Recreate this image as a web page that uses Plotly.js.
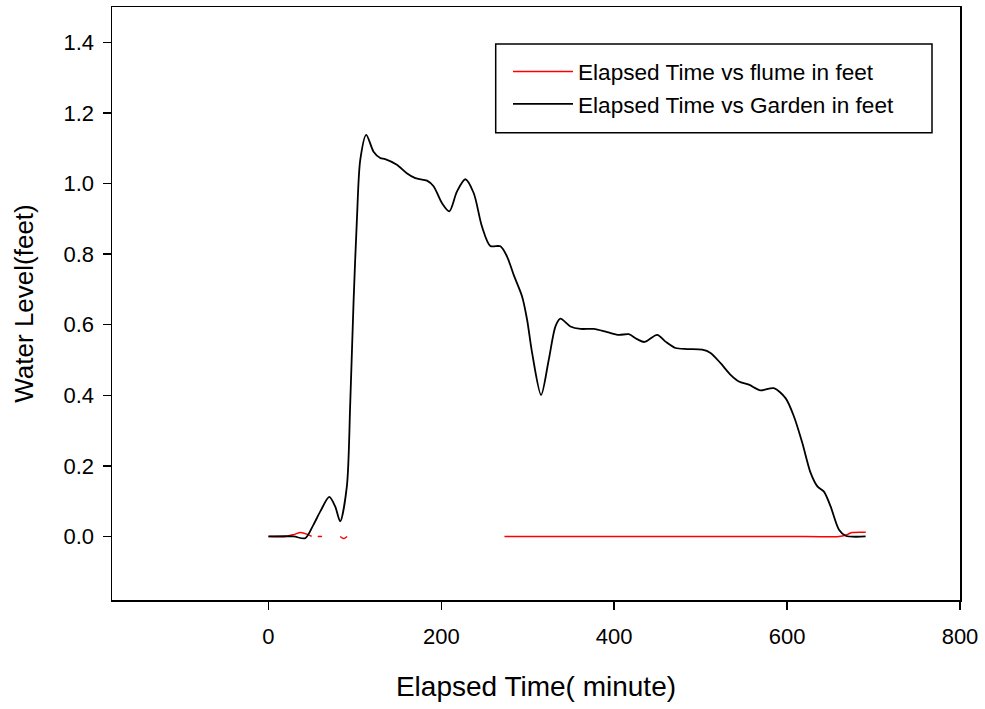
<!DOCTYPE html>
<html>
<head>
<meta charset="utf-8">
<script src="https://cdn.plot.ly/plotly-3.0.1.min.js"></script>
<style>
html,body{margin:0;padding:0;background:#fff;}
#chart{width:985px;height:709px;}
</style>
</head>
<body>
<div id="chart"></div>
<script>
// Elapsed time (minutes) and water level (feet)
var gardenX = [0, 29, 42.5, 52, 60, 70.3, 77.2, 83, 90.7, 94.6, 98.4, 102.3, 106.2, 113.1, 121.6, 129.3, 135, 148.6, 160, 169.9, 183.4, 191, 200.8, 209.2, 218, 227.7, 237.4, 247, 256.7, 268.3, 276, 283.7, 293.4, 299.2, 305, 315.4, 324.2, 332, 337.7, 349.3, 361, 376.3, 391.8, 405.2, 416.8, 426.5, 435, 449.7, 459.3, 470.9, 484.4, 501.8, 511.4, 523, 534.6, 544.2, 555.8, 569.3, 584.7, 598.2, 607.9, 617.6, 627.2, 635, 642.6, 650.3, 660, 667.7, 690.8];
var gardenY = [0, 0, -0.005, 0.033, 0.071, 0.112, 0.085, 0.043, 0.142, 0.378, 0.661, 0.897, 1.067, 1.138, 1.09, 1.072, 1.069, 1.053, 1.029, 1.015, 1.008, 0.992, 0.944, 0.921, 0.977, 1.012, 0.973, 0.878, 0.823, 0.822, 0.793, 0.741, 0.68, 0.614, 0.52, 0.401, 0.50, 0.595, 0.617, 0.595, 0.588, 0.588, 0.579, 0.571, 0.573, 0.559, 0.551, 0.571, 0.552, 0.534, 0.531, 0.529, 0.52, 0.491, 0.458, 0.439, 0.43, 0.414, 0.42, 0.392, 0.34, 0.265, 0.18, 0.142, 0.127, 0.085, 0.019, 0.002, 0];

var flumeX = [0, 20, 30, 37, 45, 50, 54, 57, 62, 72, 83, 87, 91, 180, 273, 300, 400, 500, 600, 660, 668, 675, 691];
var flumeY = [0, 0, 0.006, 0.011, 0.006, 0, null, 0, 0, null, 0, -0.006, 0, null, 0, 0, 0, 0, 0, 0, 0.004, 0.011, 0.012];

var xTicks = [0, 200, 400, 600, 800];
var yTicks = [0.0, 0.2, 0.4, 0.6, 0.8, 1.0, 1.2, 1.4];

var FONT = 'Liberation Sans, Arial, sans-serif';

var traces = [
  {
    x: flumeX, y: flumeY, type: 'scatter', mode: 'lines',
    name: 'Elapsed Time vs flume in feet',
    connectgaps: false,
    line: {color: '#ff0000', width: 1.5, shape: 'spline', smoothing: 0.8}
  },
  {
    x: gardenX, y: gardenY, type: 'scatter', mode: 'lines',
    name: 'Elapsed Time vs Garden in feet',
    line: {color: '#000000', width: 1.8, shape: 'spline', smoothing: 0.8}
  }
];

var layout = {
  width: 985, height: 709,
  paper_bgcolor: '#fff', plot_bgcolor: '#fff',
  margin: {l: 112, r: 25, t: 7, b: 109},
  font: {family: FONT, color: '#000', size: 22},
  showlegend: true,
  legend: {
    x: (508 - 112) / 848, y: 0.927, xanchor: 'left', yanchor: 'top',
    bgcolor: 'rgba(0,0,0,0)', borderwidth: 0,
    font: {family: FONT, size: 22.6, color: '#000'},
    itemwidth: 60
  },
  shapes: [
    {type: 'rect', xref: 'paper', yref: 'paper',
     x0: (495.7 - 112) / 848, x1: (932 - 112) / 848,
     y0: (600 - 132.7) / 593, y1: (600 - 44) / 593,
     line: {color: '#000', width: 1.5}, fillcolor: 'rgba(0,0,0,0)'}
  ],
  xaxis: {
    range: [-181, 800],
    tickvals: xTicks, ticktext: xTicks.map(String),
    ticks: 'outside', ticklen: 8, tickwidth: 1.5, tickcolor: '#000',
    showline: true, linecolor: '#000', linewidth: 1.5, mirror: true,
    showgrid: false, zeroline: false,
    tickfont: {family: FONT, size: 22, color: '#000'},
    ticklabelstandoff: 8,
    title: {text: 'Elapsed Time( minute)', font: {family: FONT, size: 28, color: '#000'}, standoff: 28},
    automargin: false
  },
  yaxis: {
    range: [-0.18, 1.5],
    tickvals: yTicks, ticktext: yTicks.map(function(v){return v.toFixed(1);}),
    ticks: 'outside', ticklen: 8, tickwidth: 1.5, tickcolor: '#000',
    showline: true, linecolor: '#000', linewidth: 1.5, mirror: true,
    showgrid: false, zeroline: false,
    tickfont: {family: FONT, size: 22, color: '#000'},
    ticklabelstandoff: 4,
    title: {text: 'Water Level(feet)', font: {family: FONT, size: 26, color: '#000'}, standoff: 22},
    automargin: false
  }
};

Plotly.newPlot('chart', traces, layout, {displayModeBar: false, staticPlot: true});
</script>
</body>
</html>
